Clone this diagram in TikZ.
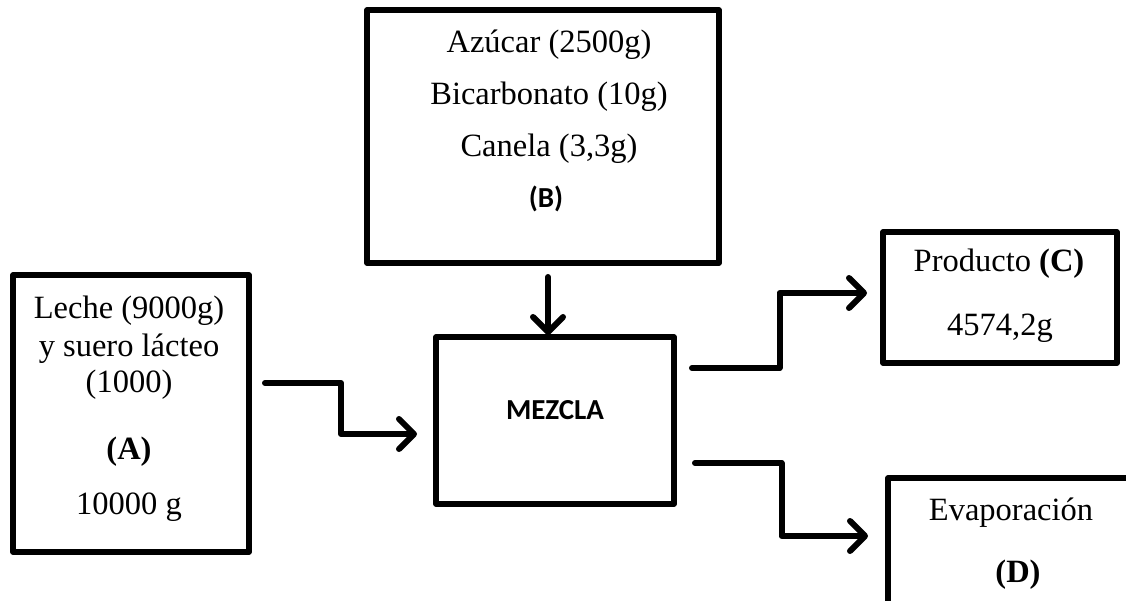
\documentclass[tikz,border=0pt]{standalone}
\usepackage{fontspec}
\setmainfont{Liberation Serif}
\newfontfamily\calib{Carlito}
\usetikzlibrary{arrows.meta,calc}
\begin{document}
\begin{tikzpicture}[x=1pt,y=-1pt,
  box/.style={draw,line width=5.5pt,rectangle,inner sep=0pt,line join=round},
  flow/.style={line width=6pt,line join=round,line cap=round,
    -{Straight Barb[length=15pt,width=30pt,line cap=round,line join=round]}},
  txt/.style={anchor=base,inner sep=0pt,font=\fontsize{32.5}{38}\selectfont},
  sbold/.style={anchor=base,inner sep=0pt,font=\fontsize{29}{34}\selectfont\calib\bfseries}]
\useasboundingbox (0,0) rectangle (1126,601);
\clip (0,0) rectangle (1126,601);
% boxes
\node[box,minimum width=236pt,minimum height=277pt] (A) at (131,413.5) {};
\node[box,minimum width=352pt,minimum height=253pt] (B) at (543,136.5) {};
\node[box,minimum width=238pt,minimum height=167pt] (M) at (555,420.5) {};
\node[box,minimum width=234pt,minimum height=131pt] (C) at (1000,297.5) {};
\node[box,minimum width=250pt,minimum height=126pt] (D) at (1013,541) {};
% texts
\node[txt] (A1) at (129,319) {Leche (9000g)};
\node[txt] (A2) at (129,356) {y suero lácteo};
\node[txt] (A3) at (129,392) {(1000)};
\node[txt] (A4) at (129,459) {\bfseries (A)};
\node[txt] (A5) at (129,514) {10000 g};
\node[txt] (B1) at (549,53) {Azúcar (2500g)};
\node[txt] (B2) at (549,105) {Bicarbonato (10g)};
\node[txt] (B3) at (549,157) {Canela (3,3g)};
\node[sbold] (B4) at (546,208) {(B)};
\node[sbold] (M1) at (555,419) {MEZCLA};
\node[txt] (C1) at (999,272) {Producto {\bfseries (C)}};
\node[txt] (C2) at (1000,335) {4574,2g};
\node[txt] (D1) at (1011,520) {Evaporación};
\node[txt] (D2) at (1018,582) {\bfseries (D)};
% connectors
\coordinate (a1) at (265,383);
\coordinate (a2) at (417,434);
\coordinate (b1) at (548,277);
\coordinate (b2) at (548,335);
\coordinate (c1) at (692,368);
\coordinate (c2) at (867,293);
\coordinate (d1) at (695,463);
\coordinate (d2) at (868,536);
\draw[flow] (a1) -| ($(a1)!.5!(a2)$) |- (a2);
\draw[flow] (b1) -- (b2);
\draw[flow] (c1) -| ($(c1)!.5!(c2)$) |- (c2);
\draw[flow] (d1) -| ($(d1)!.5!(d2)$) |- (d2);
\end{tikzpicture}
\end{document}
